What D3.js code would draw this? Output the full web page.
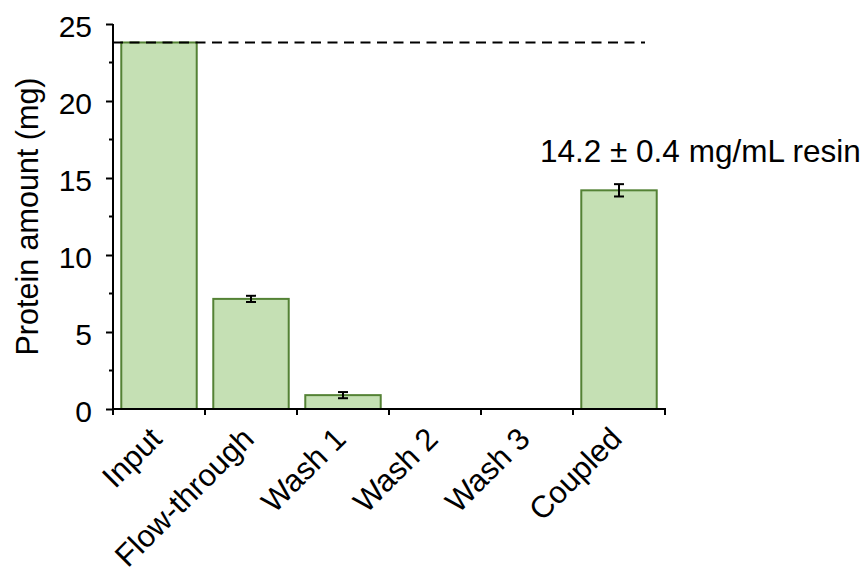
<!DOCTYPE html>
<html>
<head>
<meta charset="utf-8">
<script src="https://cdn.jsdelivr.net/npm/d3@7"></script>
<style>
  html, body { margin: 0; padding: 0; background: #fff; }
  svg { display: block; font-family: "Liberation Sans", Arial, sans-serif; }
</style>
</head>
<body>
<svg id="chart" width="867" height="567"></svg>
<script>
// Protein amounts per fraction (mg) with standard deviations
const categories = ["Input", "Flow-through", "Wash 1", "Wash 2", "Wash 3", "Coupled"];
const amounts = [23.8, 7.15, 0.9, 0, 0, 14.2];
const errors = [0, 0.2, 0.2, 0, 0, 0.4];
const yTicks = [0, 5, 10, 15, 20, 25];
const yMinorTicks = [2.5, 7.5, 12.5, 17.5, 22.5];
const yTitle = "Protein amount (mg)";
const unitNote = "mg/mL resin";

const svg = d3.select("#chart");
const plotLeft = 113, plotRight = 665, plotTop = 24, plotBottom = 409;

const x = d3.scaleBand().domain(categories).range([plotLeft, plotRight]).paddingInner(0.18).paddingOuter(0.09);
const y = d3.scaleLinear().domain([0, 25]).range([plotBottom, plotTop]);

const data = categories.map((c, i) => ({ c, v: amounts[i], e: errors[i] }));

// Bars
svg.append("g").selectAll("rect").data(data).join("rect")
  .attr("x", d => x(d.c))
  .attr("width", x.bandwidth())
  .attr("y", d => y(d.v))
  .attr("height", d => y(0) - y(d.v))
  .attr("fill", "#c5e0b4")
  .attr("stroke", "#548235")
  .attr("stroke-width", 2);

// Error bars
const eb = svg.append("g").attr("stroke", "#000").attr("stroke-width", 2)
  .selectAll("g").data(data.filter(d => d.e > 0)).join("g");
const cx = d => x(d.c) + x.bandwidth() / 2;
eb.append("line")
  .attr("x1", cx).attr("x2", cx)
  .attr("y1", d => y(d.v - d.e)).attr("y2", d => y(d.v + d.e));
eb.append("line")
  .attr("x1", d => cx(d) - 5).attr("x2", d => cx(d) + 5)
  .attr("y1", d => y(d.v + d.e)).attr("y2", d => y(d.v + d.e));
eb.append("line")
  .attr("x1", d => cx(d) - 5).attr("x2", d => cx(d) + 5)
  .attr("y1", d => y(d.v - d.e)).attr("y2", d => y(d.v - d.e));

// Dashed reference at the input amount
svg.append("line")
  .attr("x1", plotLeft).attr("x2", 645)
  .attr("y1", y(amounts[0])).attr("y2", y(amounts[0]))
  .attr("stroke", "#000").attr("stroke-width", 2)
  .attr("stroke-dasharray", "10,6.5");

// Y axis
const yAxis = svg.append("g").attr("transform", `translate(${plotLeft},0)`)
  .call(d3.axisLeft(y).tickValues(yTicks).tickSize(7).tickPadding(14).tickFormat(d3.format("d")));
yAxis.select(".domain").attr("d", `M0,${plotTop}V${plotBottom + 6}`).attr("stroke-width", 2);
yAxis.selectAll(".tick line").attr("stroke-width", 2);
yAxis.selectAll(".tick text").attr("font-size", 30).attr("fill", "#000").attr("dy", "0.42em");
yAxis.selectAll(".minor").data(yMinorTicks).join("line").attr("class", "minor")
  .attr("x1", -4).attr("x2", 0).attr("y1", d => y(d)).attr("y2", d => y(d))
  .attr("stroke", "#000").attr("stroke-width", 2);

// X axis with ticks at band boundaries
const xg = svg.append("g");
xg.append("line").attr("x1", plotLeft).attr("x2", plotRight + 1).attr("y1", plotBottom).attr("y2", plotBottom)
  .attr("stroke", "#000").attr("stroke-width", 2);
const step = x.step();
const bounds = d3.range(categories.length + 1).map(i => plotLeft + i * step);
xg.selectAll(".xt").data(bounds).join("line").attr("class", "xt")
  .attr("x1", d => d).attr("x2", d => d).attr("y1", plotBottom).attr("y2", plotBottom + 6)
  .attr("stroke", "#000").attr("stroke-width", 2);
xg.selectAll("text").data(categories).join("text")
  .attr("transform", d => `translate(${x(d) + x.bandwidth() / 2 - 3},${plotBottom + 24}) rotate(-45)`)
  .attr("text-anchor", "end").attr("dy", "0.35em")
  .attr("font-size", 31).attr("fill", "#000")
  .text(d => d);

// Axis title
svg.append("text")
  .attr("transform", `translate(38,${(plotTop + plotBottom) / 2}) rotate(-90)`)
  .attr("text-anchor", "middle").attr("font-size", 30.5).attr("fill", "#000")
  .text(yTitle);

// Coupling capacity note
const ci = categories.indexOf("Coupled");
svg.append("text")
  .attr("x", 540).attr("y", 162)
  .attr("font-size", 31.5).attr("fill", "#000")
  .text(`${amounts[ci].toFixed(1)} ± ${errors[ci].toFixed(1)} ${unitNote}`);
</script>
</body>
</html>
